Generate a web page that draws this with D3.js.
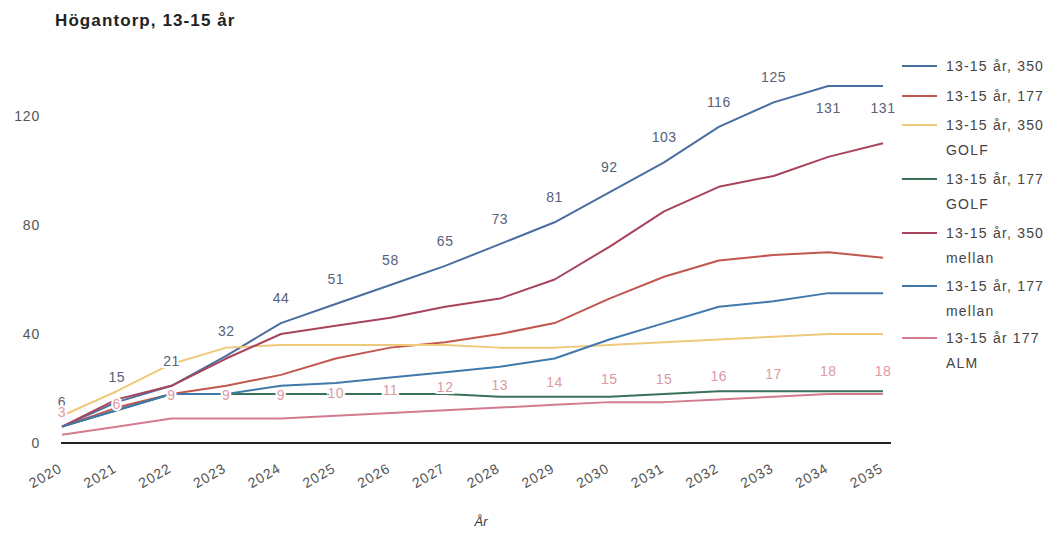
<!DOCTYPE html>
<html>
<head>
<meta charset="utf-8">
<script src="https://cdn.jsdelivr.net/npm/d3@7"></script>
<style>
  html, body { margin: 0; padding: 0; background: #fff; }
  svg { display: block; font-family: "Liberation Sans", Arial, sans-serif; }
</style>
</head>
<body>
<svg id="chart" width="1056" height="535"></svg>
<script>
// ---- data ----
const years = ["2020","2021","2022","2023","2024","2025","2026","2027","2028","2029","2030","2031","2032","2033","2034","2035"];
const yTicks = [0, 40, 80, 120];
const seriesNames = [
  ["13-15 år, 350"],
  ["13-15 år, 177"],
  ["13-15 år, 350", "GOLF"],
  ["13-15 år, 177", "GOLF"],
  ["13-15 år, 350", "mellan"],
  ["13-15 år, 177", "mellan"],
  ["13-15 år 177", "ALM"]
];
const s350       = [6, 15, 21, 32, 44, 51, 58, 65, 73, 81, 92, 103, 116, 125, 131, 131];
const s177       = [6, 13, 18, 21, 25, 31, 35, 37, 40, 44, 53, 61, 67, 69, 70, 68];
const s350golf   = [10, 19, 29, 35, 36, 36, 36, 36, 35, 35, 36, 37, 38, 39, 40, 40];
const s177golf   = [6, 12, 18, 18, 18, 18, 18, 18, 17, 17, 17, 18, 19, 19, 19, 19];
const s350mellan = [6, 16, 21, 31, 40, 43, 46, 50, 53, 60, 72, 85, 94, 98, 105, 110];
const s177mellan = [6, 12, 18, 18, 21, 22, 24, 26, 28, 31, 38, 44, 50, 52, 55, 55];
const s177alm    = [3, 6, 9, 9, 9, 10, 11, 12, 13, 14, 15, 15, 16, 17, 18, 18];

const seriesValues = [s350, s177, s350golf, s177golf, s350mellan, s177mellan, s177alm];
const colors = ["#4a6e9f", "#c2574f", "#eec97c", "#3a7258", "#a8435c", "#4179ad", "#d47a8e"];
const labelColors = { 0: "#56627a", 6: "#dc9aa4" };

// ---- layout ----
const svg = d3.select("#chart");
const x = d3.scalePoint().domain(years).range([62, 883]);
const y = d3.scaleLinear().domain([0, 140]).range([443, 61.5]);

// title
svg.append("text")
  .attr("x", 55).attr("y", 26)
  .attr("font-size", 17).attr("font-weight", "bold")
  .attr("letter-spacing", "1.1px")
  .attr("fill", "#222")
  .text("Högantorp, 13-15 år");

// y axis labels
svg.append("g").selectAll("text").data(yTicks).join("text")
  .attr("x", 40).attr("y", d => y(d) + 5)
  .attr("text-anchor", "end")
  .attr("font-size", 14).attr("letter-spacing", "0.8px")
  .attr("fill", "#555")
  .text(d => d);

// x baseline
svg.append("line")
  .attr("x1", x(years[0]) - 1).attr("x2", x(years[years.length - 1]) + 8)
  .attr("y1", y(0)).attr("y2", y(0))
  .attr("stroke", "#222").attr("stroke-width", 2);

// x tick labels
svg.append("g").selectAll("text").data(years).join("text")
  .attr("transform", d => `translate(${x(d) + 1},${471}) rotate(-30)`)
  .attr("text-anchor", "end")
  .attr("font-size", 14).attr("letter-spacing", "1px")
  .attr("fill", "#555")
  .text(d => d);

// axis title
svg.append("text")
  .attr("x", 481).attr("y", 526)
  .attr("text-anchor", "middle")
  .attr("font-size", 13).attr("font-style", "italic")
  .attr("fill", "#333")
  .text("År");

// lines
const line = d3.line().x((d, i) => x(years[i])).y(d => y(d));
svg.append("g").selectAll("path").data(seriesValues).join("path")
  .attr("d", d => line(d))
  .attr("fill", "none")
  .attr("stroke", (d, i) => colors[i])
  .attr("stroke-width", 2)
  .attr("stroke-linejoin", "round");

// data labels
function addLabels(idx, offsetFn) {
  svg.append("g").selectAll("text").data(seriesValues[idx]).join("text")
    .attr("x", (d, i) => x(years[i]))
    .attr("y", (d, i) => y(d) + offsetFn(d, i))
    .attr("text-anchor", "middle")
    .attr("font-size", 14).attr("letter-spacing", "0.5px")
    .attr("fill", labelColors[idx])
    .attr("stroke", "#fff").attr("stroke-width", 4)
    .attr("paint-order", "stroke")
    .text(d => d);
}
addLabels(0, (d, i) => (i >= 14 ? 27 : -20));
addLabels(6, () => -18);

// legend
const legend = svg.append("g");
const rowY = [66, 96, 125, 179, 233, 286, 338];
seriesNames.forEach((lines, i) => {
  const g = legend.append("g");
  g.append("line")
    .attr("x1", 902).attr("x2", 937)
    .attr("y1", rowY[i]).attr("y2", rowY[i])
    .attr("stroke", colors[i]).attr("stroke-width", 2);
  lines.forEach((t, j) => {
    g.append("text")
      .attr("x", 946).attr("y", rowY[i] + 5 + j * 25)
      .attr("font-size", 14).attr("letter-spacing", "1.2px")
      .attr("fill", "#444")
      .text(t);
  });
});
</script>
</body>
</html>
